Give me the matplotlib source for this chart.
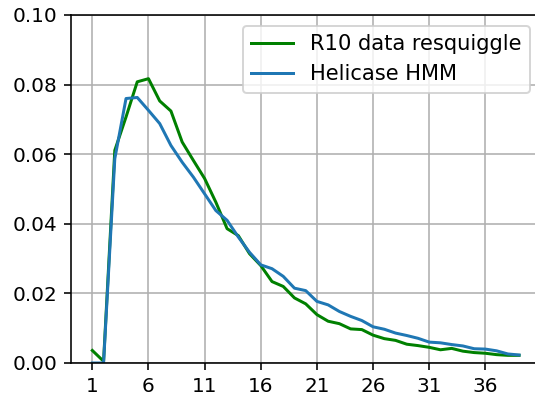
import matplotlib
matplotlib.use("Agg")
import matplotlib.pyplot as plt

positions = list(range(1, 40))
r10_resquiggle = [0.0036, 0.0005, 0.0611, 0.0707, 0.0808, 0.0817, 0.0753, 0.0724, 0.0635, 0.0582,
                  0.0530, 0.0462, 0.0386, 0.0366, 0.0314, 0.0280, 0.0234, 0.0220, 0.0187, 0.0170,
                  0.0139, 0.0120, 0.0113, 0.0098, 0.0096, 0.0080, 0.0070, 0.0065, 0.0054, 0.0050,
                  0.0045, 0.0038, 0.0042, 0.0034, 0.0030, 0.0028, 0.0024, 0.0022, 0.0022]
helicase_hmm = [0.0000, 0.0000, 0.0587, 0.0760, 0.0763, 0.0726, 0.0688, 0.0625, 0.0577, 0.0534,
                0.0486, 0.0438, 0.0410, 0.0362, 0.0318, 0.0282, 0.0271, 0.0249, 0.0215, 0.0208,
                0.0177, 0.0167, 0.0148, 0.0134, 0.0122, 0.0104, 0.0097, 0.0086, 0.0079, 0.0071,
                0.0060, 0.0058, 0.0053, 0.0049, 0.0041, 0.0040, 0.0035, 0.0026, 0.0023]
xticks = [1, 6, 11, 16, 21, 26, 31, 36]
yticks = [0.00, 0.02, 0.04, 0.06, 0.08, 0.10]

dpi = 144
fig = plt.figure(figsize=(535 / dpi, 398 / dpi), dpi=dpi)
ax = fig.add_axes([71 / 535, 35 / 398, 469.4 / 535, 348 / 398])
ax.plot(positions, r10_resquiggle, color="green", lw=1.5, label="R10 data resquiggle")
ax.plot(positions, helicase_hmm, color="#1f77b4", lw=1.5, label="Helicase HMM")
ax.set_xticks(xticks)
ax.set_yticks(yticks)
ax.set_ylim(0, 0.10)
ax.set_xlim(-0.9, 40.9)
ax.grid(True)
ax.tick_params(labelsize=10)
ax.legend(loc="upper right", fontsize=10.5)
fig.savefig("out.png", dpi=dpi)
